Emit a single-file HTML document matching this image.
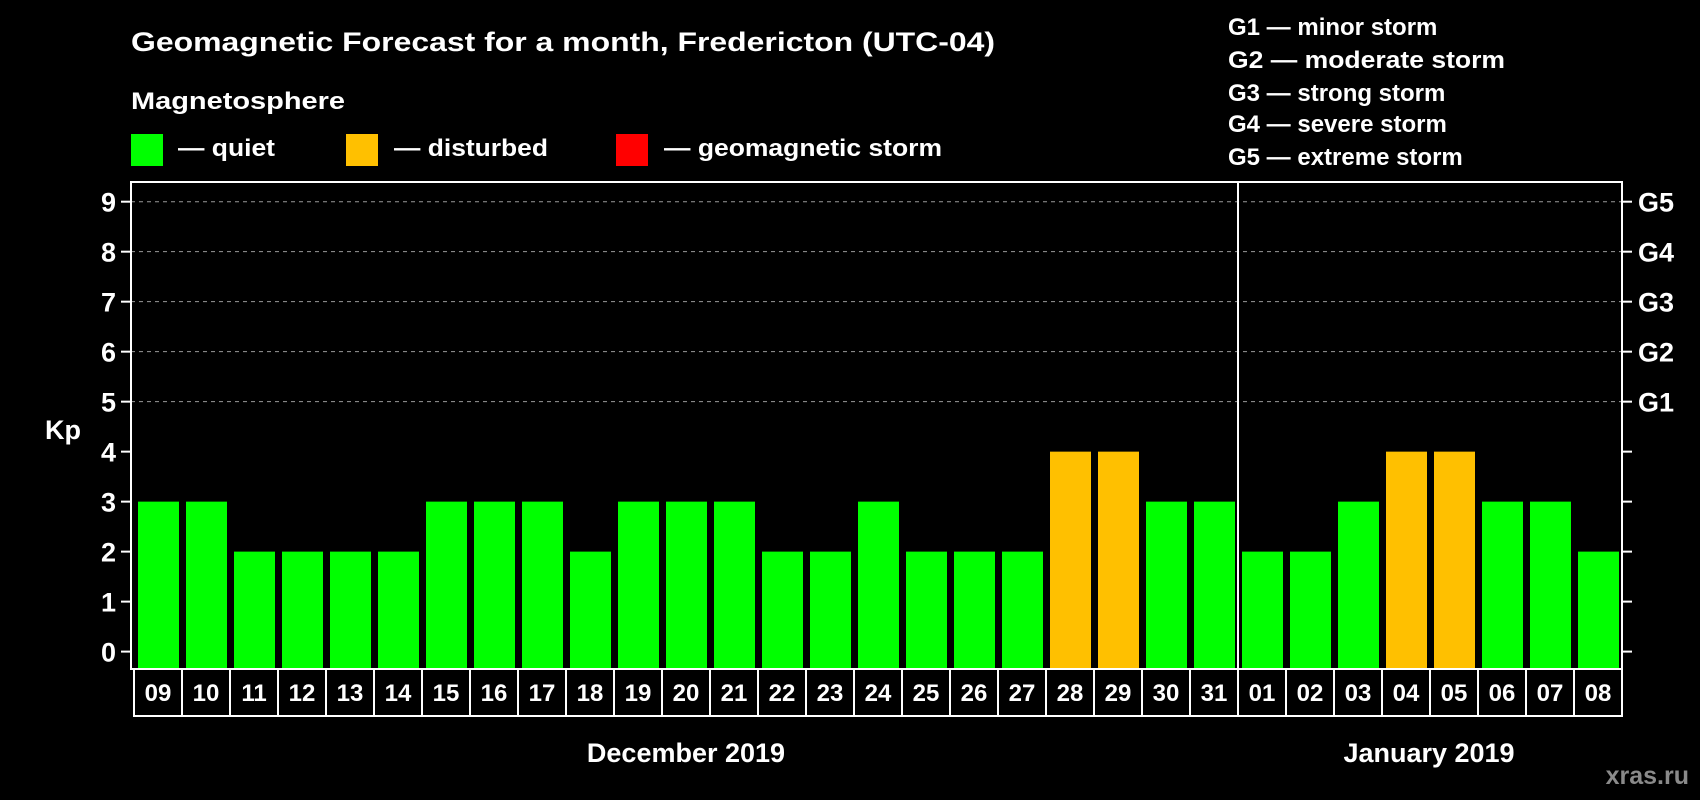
<!DOCTYPE html>
<html><head><meta charset="utf-8"><style>
html,body{margin:0;padding:0;background:#000;width:1700px;height:800px;overflow:hidden}
svg text{font-family:"Liberation Sans",sans-serif;font-weight:bold;fill:#fff}
</style></head><body>
<svg id="chart" width="1700" height="800" xmlns="http://www.w3.org/2000/svg">
<text x="131" y="51" font-size="27" textLength="864" lengthAdjust="spacingAndGlyphs">Geomagnetic Forecast for a month, Fredericton (UTC-04)</text>
<text x="131" y="109" font-size="24" textLength="214" lengthAdjust="spacingAndGlyphs">Magnetosphere</text>
<rect x="131" y="134" width="32" height="32" fill="#00ff00"/>
<text x="178" y="156" font-size="24" textLength="97" lengthAdjust="spacingAndGlyphs">— quiet</text>
<rect x="346" y="134" width="32" height="32" fill="#ffc000"/>
<text x="394" y="156" font-size="24" textLength="154" lengthAdjust="spacingAndGlyphs">— disturbed</text>
<rect x="616" y="134" width="32" height="32" fill="#ff0000"/>
<text x="664" y="156" font-size="24" textLength="278" lengthAdjust="spacingAndGlyphs">— geomagnetic storm</text>
<g font-size="24">
<text x="1228" y="35">G1 — minor storm</text>
<text x="1228" y="68" textLength="277" lengthAdjust="spacingAndGlyphs">G2 — moderate storm</text>
<text x="1228" y="101">G3 — strong storm</text>
<text x="1228" y="132">G4 — severe storm</text>
<text x="1228" y="165">G5 — extreme storm</text>
</g>
<text x="63" y="439" font-size="27" text-anchor="middle">Kp</text>
<g id="grid"></g><g id="bars"></g><g id="axes"></g><g id="cells"></g>
<text x="686" y="762" font-size="27" text-anchor="middle">December 2019</text>
<text x="1429" y="762" font-size="27" text-anchor="middle">January 2019</text>
<text x="1689" y="784" font-size="25" text-anchor="end" style="fill:#8a8a8a">xras.ru</text>
</svg>
<script>
const decDays=["09","10","11","12","13","14","15","16","17","18","19","20","21","22","23","24","25","26","27","28","29","30","31"];
const decKp=[3,3,2,2,2,2,3,3,3,2,3,3,3,2,2,3,2,2,2,4,4,3,3];
const janDays=["01","02","03","04","05","06","07","08"];
const janKp=[2,2,3,4,4,3,3,2];
const yTicks=[0,1,2,3,4,5,6,7,8,9];
const gLabels=["","","","","","G1","G2","G3","G4","G5"];
const NS="http://www.w3.org/2000/svg";
const L=131,R=1622,T=182,B=669,DIV=1238;
function y(v){return 651.6-v*49.99;}
function mk(t,a,p){const e=document.createElementNS(NS,t);for(const k in a)e.setAttribute(k,a[k]);p.appendChild(e);return e;}
function col(v){return v>=5?"#ff0000":(v>=4?"#ffc000":"#00ff00");}
const grid=document.getElementById('grid'),bars=document.getElementById('bars'),axes=document.getElementById('axes'),cells=document.getElementById('cells');
yTicks.forEach((v,i)=>{
  if(v>=5){const g=mk('line',{x1:L,x2:R,y1:y(v),y2:y(v),stroke:'#999','stroke-width':1,'stroke-dasharray':'4,4'},grid);
  }
  const t1=mk('line',{x1:121,x2:L,y1:y(v),y2:y(v),stroke:'#fff','stroke-width':2},axes);
  
  const t2=mk('line',{x1:R,x2:1632,y1:y(v),y2:y(v),stroke:'#fff','stroke-width':2},axes);
  
  const lb=mk('text',{x:116,y:y(v)+10,'font-size':27,'text-anchor':'end'},axes);lb.textContent=v;
  
  if(gLabels[i]){const gl=mk('text',{x:1638,y:y(v)+10,'font-size':27},axes);gl.textContent=gLabels[i];
  }
});
function drawGroup(days,vals,x0,pitch,inset,bw){
  days.forEach((d,i)=>{
    const cx=x0+pitch*i;
    const b=mk('rect',{x:cx+inset,y:y(vals[i]),width:bw,height:B-y(vals[i]),fill:col(vals[i])},bars);
    
    const c=mk('rect',{x:cx,y:B,width:pitch,height:47,fill:'none',stroke:'#fff','stroke-width':2},cells);
    
    const t=mk('text',{x:cx+pitch/2,y:B+32,'font-size':24,'text-anchor':'middle'},cells);t.textContent=d;
    
  });
}
drawGroup(decDays,decKp,134,(DIV-134)/decDays.length,4,41);
drawGroup(janDays,janKp,DIV,(R-DIV)/janDays.length,4,41);
const fr=mk('rect',{x:L,y:T,width:R-L,height:B-T,fill:'none',stroke:'#fff','stroke-width':2},axes);

const dv=mk('line',{x1:DIV,x2:DIV,y1:T,y2:B,stroke:'#fff','stroke-width':2},axes);

</script>
</body></html>
